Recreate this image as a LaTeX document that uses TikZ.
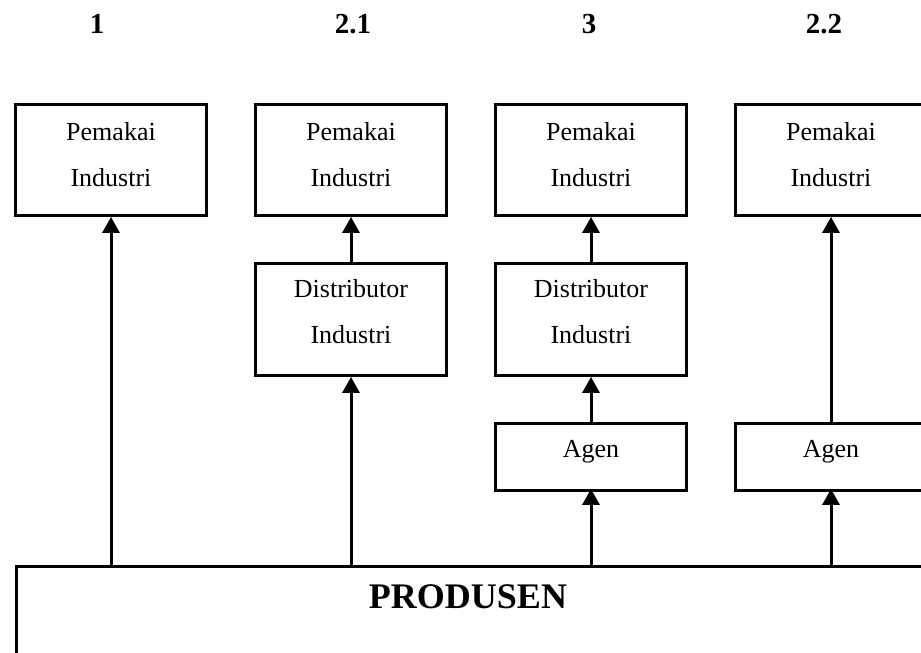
\documentclass[tikz,border=0pt]{standalone}
\usepackage{fontspec}
\setmainfont{Liberation Serif}
\usetikzlibrary{arrows.meta}
\begin{document}
\begin{tikzpicture}[x=1pt,y=-1pt,
  box/.style={draw, line width=2.8pt, minimum width=191pt, inner sep=0pt, align=center,
    font=\fontsize{26}{46}\selectfont},
  twoline/.style={box, minimum height=111pt, text height=70pt, text depth=18pt},
  distline/.style={box, minimum height=112pt, text height=65pt, text depth=18pt},
  oneline/.style={box, minimum height=67pt, text height=12pt, text depth=12pt},
  arr/.style={line width=3pt, -{Triangle[width=17pt,length=16pt]}},
  num/.style={font=\fontsize{29}{34}\selectfont\bfseries, anchor=base, inner sep=0pt}]
\useasboundingbox (0,0) rectangle (921,653);
\clip (0,0) rectangle (921,653);

% column numbers
\node[num] (n1) at (97,33) {1};
\node[num] (n21) at (353,33) {2.1};
\node[num] (n3) at (589,33) {3};
\node[num] (n22) at (824,33) {2.2};

% Pemakai Industri boxes
\node[twoline] (p1) at (111,160) {Pemakai\\Industri};
\node[twoline] (p2) at (351,160) {Pemakai\\Industri};
\node[twoline] (p3) at (591,160) {Pemakai\\Industri};
\node[twoline] (p4) at (831,160) {Pemakai\\Industri};

% Distributor Industri boxes
\node[distline] (d2) at (351,319.5) {Distributor\\Industri};
\node[distline] (d3) at (591,319.5) {Distributor\\Industri};

% Agen boxes
\node[oneline] (a3) at (591,457) {Agen};
\node[oneline] (a4) at (831,457) {Agen};

% Produsen
\node[draw, line width=2.8pt, minimum width=940pt, minimum height=140pt, inner sep=0pt, anchor=north west]
  (prod) at (15.4,565.4) {};
\node[font=\fontsize{36}{40}\selectfont\bfseries, anchor=base, inner sep=0pt] (prodlbl) at (468,608) {PRODUSEN};

% connectors
\draw[arr] (p1.south |- prod.north) -- (p1.south);
\draw[arr] (d2.south |- prod.north) -- (d2.south);
\draw[arr] (d2.north) -- (p2.south);
\draw[arr] (a3.south |- prod.north) -- ([yshift=3pt]a3.south);
\draw[arr] (a3.north) -- (d3.south);
\draw[arr] (d3.north) -- (p3.south);
\draw[arr] (a4.south |- prod.north) -- ([yshift=3pt]a4.south);
\draw[arr] (a4.north) -- (p4.south);
\end{tikzpicture}
\end{document}
